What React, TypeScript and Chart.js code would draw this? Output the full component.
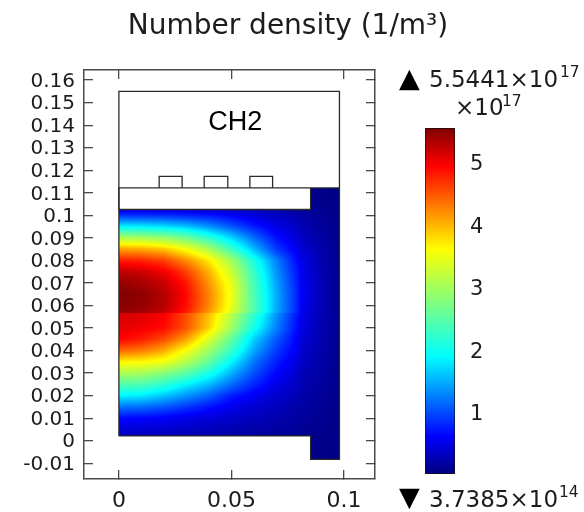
import React, { useEffect, useRef } from "react";
import { Chart, registerables } from "chart.js";

Chart.register(...registerables);

const TEXT = "#1c1c1c";
const AXIS = "#4a4a4a";
const SANS = "'DejaVu Sans'";

const xTicks = [0, 0.05, 0.1];
const xTickLabels = ["0", "0.05", "0.1"];
const yTicks = [-0.01, 0, 0.01, 0.02, 0.03, 0.04, 0.05, 0.06, 0.07, 0.08, 0.09, 0.1, 0.11, 0.12, 0.13, 0.14, 0.15, 0.16];
const yTickLabels = ["-0.01", "0", "0.01", "0.02", "0.03", "0.04", "0.05", "0.06", "0.07", "0.08", "0.09", "0.1", "0.11", "0.12", "0.13", "0.14", "0.15", "0.16"];

const xRange = [-0.0155, 0.1138];
const yRange = [-0.017, 0.1645];

const barTicks = [1, 2, 3, 4, 5];
const barRange = [0.0037385, 5.5441];

const jetPos = [0, 0.11, 0.34, 0.65, 0.89, 1];
const jetRgb = [
  [0, 0, 128],
  [0, 0, 255],
  [0, 255, 255],
  [255, 255, 0],
  [255, 0, 0],
  [128, 0, 0],
];

// Number density / 1e17 at these nodes
const fieldX = [0, 0.01, 0.02, 0.03, 0.04, 0.05, 0.06, 0.07, 0.08, 0.0809, 0.09, 0.098];
const fieldY = [-0.0083, -0.002, 0.0021, 0.005, 0.01, 0.015, 0.02, 0.025, 0.03, 0.035, 0.04, 0.045, 0.05, 0.0567, 0.0569, 0.06, 0.065, 0.07, 0.075, 0.08, 0.085, 0.09, 0.095, 0.1, 0.1026, 0.107, 0.1122];
const fieldV = [
  [0.04, 0.04, 0.04, 0.04, 0.04, 0.04, 0.04, 0.04, 0.04, 0.04, 0.04, 0.03],
  [0.06, 0.06, 0.06, 0.06, 0.06, 0.06, 0.06, 0.06, 0.06, 0.06, 0.05, 0.03],
  [0.3, 0.29, 0.27, 0.25, 0.22, 0.18, 0.15, 0.12, 0.09, 0.08, 0.06, 0.03],
  [0.42, 0.41, 0.38, 0.34, 0.3, 0.25, 0.2, 0.16, 0.12, 0.1, 0.07, 0.03],
  [0.65, 0.62, 0.58, 0.5, 0.43, 0.36, 0.3, 0.22, 0.16, 0.14, 0.09, 0.04],
  [1.2, 1.15, 1.05, 0.88, 0.7, 0.52, 0.4, 0.3, 0.2, 0.17, 0.11, 0.04],
  [1.85, 1.8, 1.6, 1.35, 1.1, 0.75, 0.55, 0.38, 0.25, 0.2, 0.13, 0.05],
  [2.45, 2.4, 2.2, 1.85, 1.55, 1.15, 0.8, 0.5, 0.3, 0.24, 0.15, 0.05],
  [3.05, 3.0, 2.8, 2.5, 2.05, 1.5, 1.0, 0.62, 0.36, 0.28, 0.17, 0.05],
  [3.65, 3.63, 3.5, 3.1, 2.55, 1.85, 1.2, 0.75, 0.42, 0.33, 0.19, 0.06],
  [4.4, 4.3, 4.05, 3.55, 2.95, 2.25, 1.45, 0.9, 0.5, 0.38, 0.21, 0.06],
  [4.93, 4.8, 4.55, 4.1, 3.35, 2.55, 1.65, 1.05, 0.55, 0.43, 0.23, 0.06],
  [5.05, 5.0, 4.88, 4.5, 3.85, 2.95, 2.0, 1.25, 0.6, 0.48, 0.24, 0.07],
  [5.15, 5.1, 4.98, 4.55, 3.95, 3.15, 2.25, 1.35, 0.65, 0.52, 0.26, 0.07],
  [5.45, 5.4, 5.22, 4.8, 4.15, 3.4, 2.4, 1.45, 0.72, 0.55, 0.26, 0.07],
  [5.5, 5.44, 5.28, 4.87, 4.22, 3.47, 2.42, 1.47, 0.72, 0.57, 0.26, 0.07],
  [5.54, 5.48, 5.3, 4.9, 4.25, 3.5, 2.4, 1.47, 0.72, 0.58, 0.27, 0.07],
  [5.45, 5.35, 5.2, 4.82, 4.15, 3.45, 2.35, 1.42, 0.7, 0.57, 0.26, 0.07],
  [5.25, 5.18, 5.0, 4.6, 4.0, 3.25, 2.25, 1.35, 0.66, 0.54, 0.25, 0.07],
  [4.8, 4.75, 4.6, 4.2, 3.7, 3.0, 2.05, 1.25, 0.6, 0.5, 0.23, 0.06],
  [4.1, 4.05, 3.9, 3.55, 3.05, 2.3, 1.55, 0.9, 0.5, 0.42, 0.2, 0.06],
  [3.05, 3.0, 2.9, 2.65, 2.2, 1.7, 1.15, 0.68, 0.4, 0.34, 0.17, 0.05],
  [1.85, 1.82, 1.75, 1.6, 1.35, 1.05, 0.75, 0.5, 0.32, 0.27, 0.14, 0.05],
  [0.85, 0.84, 0.82, 0.78, 0.72, 0.6, 0.45, 0.32, 0.22, 0.2, 0.1, 0.04],
  [0.5, 0.5, 0.48, 0.45, 0.42, 0.36, 0.28, 0.2, 0.15, 0.14, 0.09, 0.04],
  [0.06, 0.06, 0.06, 0.06, 0.06, 0.06, 0.06, 0.06, 0.06, 0.06, 0.05, 0.03],
  [0.04, 0.04, 0.04, 0.04, 0.04, 0.04, 0.04, 0.04, 0.04, 0.04, 0.04, 0.03],
];

// Domain limits of the meshed region
const domainLeft = 0;
const domainStep = 0.0852;
const domainRight = 0.098;
const wideBottom = 0.0021;
const wideTop = 0.1026;
const stepBottom = -0.0083;
const stepTop = 0.1122;

// Geometry outlines
const outlineX = [0, 0.0852, 0.0852, 0.098, 0.098, 0, 0];
const outlineY = [0.0021, 0.0021, -0.0083, -0.0083, 0.155, 0.155, 0.0021];
const slabX = [0.098, 0, 0, 0.0852, 0.0852];
const slabY = [0.1122, 0.1122, 0.1026, 0.1026, 0.1122];
const bumpA = [0.0179, 0.0281];
const bumpB = [0.0379, 0.0484];
const bumpC = [0.0582, 0.0683];
const bumpBase = 0.1122;
const bumpTop = 0.1173;

const jet = (t: number) => {
  const u = Math.min(1, Math.max(0, t));
  let i = 0;
  while (i < jetPos.length - 2 && u > jetPos[i + 1]) i++;
  const f = (u - jetPos[i]) / (jetPos[i + 1] - jetPos[i]);
  return jetRgb[i].map((c, k) => c + (jetRgb[i + 1][k] - c) * f);
};

const locate = (arr: number[], v: number) => {
  let i = 0;
  while (i < arr.length - 2 && v > arr[i + 1]) i++;
  const f = Math.min(1, Math.max(0, (v - arr[i]) / (arr[i + 1] - arr[i])));
  return [i, f];
};

const fieldPoints = fieldY.flatMap((y, r) => fieldX.map((x, c) => ({ x, y, v: fieldV[r][c] })));

const heatPlugin = {
  id: "heat",
  beforeDatasetsDraw(chart: any) {
    const xs = chart.scales.x;
    const ys = chart.scales.y;
    const pts = chart.data.datasets[0].data;
    const nc = fieldX.length;
    const x0 = Math.round(xs.getPixelForValue(domainLeft));
    const x1 = Math.round(xs.getPixelForValue(domainRight));
    const y0 = Math.round(ys.getPixelForValue(stepTop));
    const y1 = Math.round(ys.getPixelForValue(stepBottom));
    const w = x1 - x0;
    const h = y1 - y0;
    const img = chart.ctx.createImageData(w, h);
    for (let py = 0; py < h; py++) {
      const dy = ys.getValueForPixel(y0 + py + 0.5);
      const [r, fr] = locate(fieldY, dy);
      for (let px = 0; px < w; px++) {
        const dx = xs.getValueForPixel(x0 + px + 0.5);
        const inWide = dy >= wideBottom && dy <= wideTop;
        if (dx < domainStep && !inWide) continue;
        const [c, fc] = locate(fieldX, dx);
        const a = pts[r * nc + c].v;
        const b = pts[r * nc + c + 1].v;
        const d = pts[(r + 1) * nc + c].v;
        const e = pts[(r + 1) * nc + c + 1].v;
        const v = (a * (1 - fc) + b * fc) * (1 - fr) + (d * (1 - fc) + e * fc) * fr;
        const col = jet((v - barRange[0]) / (barRange[1] - barRange[0]));
        const o = (py * w + px) * 4;
        img.data[o] = col[0];
        img.data[o + 1] = col[1];
        img.data[o + 2] = col[2];
        img.data[o + 3] = 255;
      }
    }
    chart.ctx.putImageData(img, x0, y0);
  },
};

const textPlugin = {
  id: "texts",
  afterDraw(chart: any) {
    const c = chart.ctx;
    const xs = chart.scales.x;
    const ys = chart.scales.y;
    c.save();
    c.fillStyle = "#000";
    c.textBaseline = "alphabetic";
    c.textAlign = "center";
    c.font = "27px 'Liberation Sans'";
    c.fillText("CH2", xs.getPixelForValue(0.0517), ys.getPixelForValue(0.1377));
    c.fillStyle = TEXT;
    c.textAlign = "left";
    c.font = `23px ${SANS}`;
    c.fillText("5.5441×10", 429, 87);
    c.fillText("3.7385×10", 429, 507);
    c.fillText("×10", 455, 115);
    c.font = `15.5px ${SANS}`;
    c.fillText("17", 560, 77);
    c.fillText("14", 559, 497);
    c.fillText("17", 502, 106);
    c.fillStyle = "#000";
    c.font = `27px ${SANS}`;
    c.textAlign = "center";
    c.fillText("▲", 409.5, 87);
    c.fillText("▼", 409.5, 506);
    c.restore();
  },
};

const line = (label: string, xsv: number[], ysv: number[]) => ({
  type: "scatter",
  label,
  showLine: true,
  data: xsv.map((x, i) => ({ x, y: ysv[i] })),
  borderColor: "#2a2a2a",
  borderWidth: 1.3,
  pointRadius: 0,
  fill: false,
});

const bump = (label: string, b: number[]) =>
  line(label, [b[0], b[0], b[1], b[1]], [bumpBase, bumpTop, bumpTop, bumpBase]);

const tickScale = (
  position: string,
  min: number,
  max: number,
  values: number[],
  labels: string[] | null,
  size: number,
  tickLength: number,
  fontSize = 20,
  labelOffset = 0,
) => ({
  type: "linear",
  position,
  min,
  max,
  afterBuildTicks(s: any) {
    s.ticks = values.map((value) => ({ value }));
  },
  afterFit(s: any) {
    if (position === "left" || position === "right") s.width = size;
    else s.height = size;
    s.paddingTop = 0;
    s.paddingBottom = 0;
    s.paddingLeft = 0;
    s.paddingRight = 0;
  },
  ticks: {
    display: !!labels,
    autoSkip: false,
    maxRotation: 0,
    padding: 18,
    labelOffset,
    color: TEXT,
    font: { family: "DejaVu Sans", size: fontSize },
    callback: (v: number) => {
      const i = values.findIndex((t) => Math.abs(t - v) < 1e-9);
      return labels ? labels[i] : "";
    },
  },
  grid: {
    drawOnChartArea: false,
    drawTicks: true,
    tickLength,
    color: AXIS,
    lineWidth: 1.3,
  },
  border: { display: true, color: AXIS, width: 1.5 },
});

export default function App() {
  const mainRef = useRef<HTMLCanvasElement>(null);
  const barRef = useRef<HTMLCanvasElement>(null);

  useEffect(() => {
    const main = new Chart(mainRef.current as any, {
      type: "scatter",
      data: {
        datasets: [
          { label: "Number density", data: fieldPoints, pointRadius: 0, showLine: false },
          line("Outline", outlineX, outlineY),
          line("Slab", slabX, slabY),
          bump("Strip 1", bumpA),
          bump("Strip 2", bumpB),
          bump("Strip 3", bumpC),
        ] as any,
      },
      options: {
        responsive: false,
        animation: false,
        events: [],
        layout: { padding: { left: 0, right: 8, top: 0, bottom: 0 } },
        plugins: {
          legend: { display: false },
          tooltip: { enabled: false },
          title: {
            display: true,
            text: "Number density (1/m³)",
            color: TEXT,
            font: { family: "DejaVu Sans", size: 28, weight: "normal" },
            padding: { top: 10.2, bottom: 26.2 },
          },
        },
        scales: {
          x: tickScale("bottom", xRange[0], xRange[1], xTicks, xTickLabels, 33, -9, 22),
          x2: tickScale("top", xRange[0], xRange[1], xTicks, null, 0, -9),
          y: tickScale("left", yRange[0], yRange[1], yTicks, yTickLabels, 84, -9, 20, 1.5),
          y2: tickScale("right", yRange[0], yRange[1], yTicks, null, 201, -9),
        } as any,
      },
      plugins: [heatPlugin, textPlugin],
    } as any);

    const bar = new Chart(barRef.current as any, {
      type: "bar",
      data: {
        labels: ["Number density"],
        datasets: [
          {
            data: [barRange],
            barPercentage: 1,
            categoryPercentage: 1,
            borderColor: "#111",
            borderWidth: 1,
            borderSkipped: false,
            backgroundColor(ctx: any) {
              const area = ctx.chart.chartArea;
              if (!area) return "#000";
              const g = ctx.chart.ctx.createLinearGradient(0, area.bottom, 0, area.top);
              jetPos.forEach((p, i) => g.addColorStop(p, `rgb(${jetRgb[i].join(",")})`));
              return g;
            },
          },
        ] as any,
      },
      options: {
        responsive: false,
        animation: false,
        events: [],
        layout: { padding: { left: 25, top: 28, bottom: 26, right: 0 } },
        plugins: { legend: { display: false }, tooltip: { enabled: false }, title: { display: false } },
        scales: {
          x: { display: false },
          y: {
            ...tickScale("right", barRange[0], barRange[1], barTicks, barTicks.map(String), 129, -4),
            ticks: {
              autoSkip: false,
              padding: 19,
              labelOffset: 3,
              color: TEXT,
              font: { family: "DejaVu Sans", size: 21 },
              callback: (v: number) => String(v),
            },
            grid: { drawOnChartArea: false, drawTicks: true, tickLength: -4, color: "#222", lineWidth: 1 },
            border: { display: false },
          },
          yl: {
            ...tickScale("left", barRange[0], barRange[1], barTicks, null, 0, -4),
            grid: { drawOnChartArea: false, drawTicks: true, tickLength: -4, color: "#222", lineWidth: 1 },
            border: { display: false },
          },
        } as any,
      },
    } as any);

    return () => {
      main.destroy();
      bar.destroy();
    };
  }, []);

  return (
    <div style={{ position: "fixed", left: 0, top: 0, width: 584, height: 512, background: "#fff" }}>
      <canvas ref={mainRef} width={584} height={512} style={{ position: "absolute", left: 0, top: 0, display: "block" }} />
      <canvas ref={barRef} width={184} height={400} style={{ position: "absolute", left: 400, top: 100, display: "block" }} />
    </div>
  );
}
